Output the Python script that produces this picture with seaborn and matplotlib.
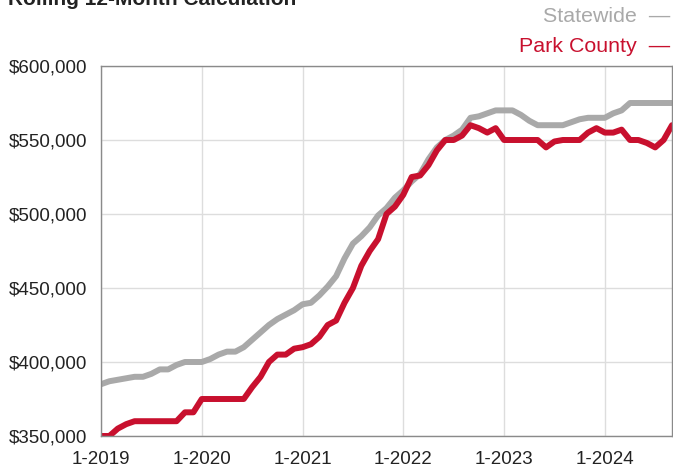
import pandas as pd
import seaborn as sns
import matplotlib.pyplot as plt
from matplotlib.ticker import FuncFormatter

# monthly values, 1-2019 through 9-2024 (rolling 12-month median price)
months = [f"{m}-{y}" for y in range(2019, 2025) for m in range(1, 13)][:69]

statewide = [385000, 387000, 388000, 389000, 390000, 390000, 392000, 395000, 395000, 398000,
             400000, 400000, 400000, 402000, 405000, 407000, 407000, 410000, 415000, 420000,
             425000, 429000, 432000, 435000, 439000, 440000, 445000, 451000, 458000, 470000,
             480000, 485000, 491000, 499000, 504000, 511000, 516000, 522000, 527000, 537000,
             545000, 550000, 553000, 557000, 565000, 566000, 568000, 570000, 570000, 570000,
             567000, 563000, 560000, 560000, 560000, 560000, 562000, 564000, 565000, 565000,
             565000, 568000, 570000, 575000, 575000, 575000, 575000, 575000, 575000]

park_county = [350000, 350000, 355000, 358000, 360000, 360000, 360000, 360000, 360000, 360000,
               366000, 366000, 375000, 375000, 375000, 375000, 375000, 375000, 383000, 390000,
               400000, 405000, 405000, 409000, 410000, 412000, 417000, 425000, 428000, 440000,
               450000, 465000, 475000, 483000, 500000, 505000, 513000, 525000, 526000, 533000,
               543000, 550000, 550000, 553000, 560000, 558000, 555000, 558000, 550000, 550000,
               550000, 550000, 550000, 545000, 549000, 550000, 550000, 550000, 555000, 558000,
               555000, 555000, 557000, 550000, 550000, 548000, 545000, 550000, 560000]

tick_labels = ["1-2019", "1-2020", "1-2021", "1-2022", "1-2023", "1-2024"]

df = pd.DataFrame({"idx": range(len(months)), "month": months,
                   "Statewide": statewide, "Park County": park_county})
long = df.melt(id_vars=["idx", "month"], var_name="area", value_name="price")

sns.set_style("white")
plt.rcParams["font.family"] = ["Liberation Sans", "DejaVu Sans"]

gray = "#a9a9a9"
red = "#c8102e"

fig = plt.figure(figsize=(6.73, 4.68), dpi=100)
ax = fig.add_axes([101 / 673, 32 / 468, 571 / 673, 370 / 468])

sns.lineplot(data=long, x="idx", y="price", hue="area",
             palette={"Statewide": gray, "Park County": red},
             linewidth=4.3, legend=False, ax=ax)

ax.set_xlim(0, len(months) - 1)
ax.set_ylim(350000, 600000)
ax.set_xticks([months.index(t) for t in tick_labels])
ax.set_xticklabels(tick_labels)
ax.set_yticks(range(350000, 600001, 50000))
ax.yaxis.set_major_formatter(FuncFormatter(lambda v, p: f"${v:,.0f}"))
ax.set_xlabel("")
ax.set_ylabel("")

ax.grid(True, color="#dddddd", linewidth=1)
ax.set_axisbelow(True)
for s in ax.spines.values():
    s.set_color("#8a8a8a")
    s.set_linewidth(1)
ax.tick_params(axis="both", labelsize=13.5, colors="#8a8a8a", labelcolor="#222222",
               length=5, width=1, direction="out")
ax.tick_params(axis="x", pad=6)
ax.tick_params(axis="y", pad=5)

# title sits partly above the top edge, as in the source image
fig.text(8 / 673, 1 - 5 / 468, "Rolling 12-Month Calculation", fontsize=15,
         fontweight="bold", color="#222222", va="baseline", ha="left")
fig.text(670 / 673, 1 - 17 / 468, "Statewide  \u2014", fontsize=15.4, color=gray,
         va="center", ha="right")
fig.text(670 / 673, 1 - 47 / 468, "Park County  \u2014", fontsize=15.4, color=red,
         va="center", ha="right")

fig.savefig("out.png", dpi=100)
